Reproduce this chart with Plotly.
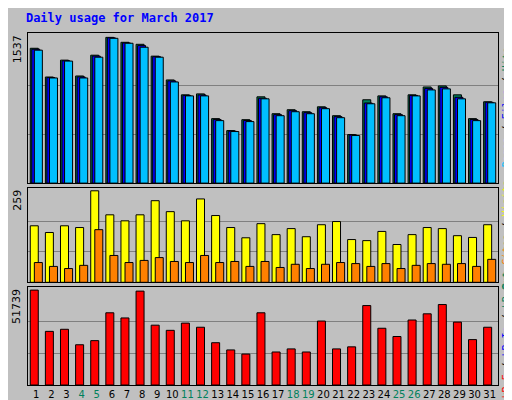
import plotly.graph_objects as go
from plotly.subplots import make_subplots

days = list(range(1, 32))
weekend_days = [4, 5, 11, 12, 18, 19, 25, 26]

hits = [1422, 1119, 1297, 1130, 1349, 1537, 1485, 1464, 1339, 1088, 931, 941, 680, 554, 669, 910,
        732, 774, 753, 805, 711, 512, 879, 920, 732, 931, 1014, 1025, 931, 680, 858]
files = [1412, 1113, 1290, 1120, 1340, 1532, 1478, 1450, 1333, 1078, 925, 930, 670, 548, 660, 895,
         722, 764, 743, 795, 701, 507, 845, 910, 722, 925, 999, 1010, 905, 670, 853]
pages = [1402, 1109, 1287, 1109, 1328, 1527, 1475, 1433, 1328, 1067, 920, 920, 659, 544, 649, 889,
         711, 753, 732, 785, 690, 502, 837, 900, 711, 920, 983, 994, 889, 659, 847]
visits = [160, 141, 160, 155, 259, 191, 174, 191, 231, 200, 174, 236, 189, 155, 126, 166,
          135, 152, 129, 163, 172, 121, 118, 144, 107, 135, 155, 152, 132, 127, 163]
sites = [56, 45, 39, 48, 149, 76, 56, 62, 70, 59, 56, 76, 56, 59, 45, 59,
         42, 51, 39, 51, 56, 53, 45, 53, 39, 48, 53, 51, 53, 45, 65]
kbytes = [50640, 28620, 29720, 21470, 23670, 38530, 35780, 50090, 31920, 29170, 33020, 30820, 22570,
          18710, 16510, 38530, 17610, 19260, 17610, 34120, 19260, 20360, 42380, 30270, 25870, 34680,
          37980, 42930, 33570, 24220, 30820]

GRAY = "#C0C0C0"
MONO = "DejaVu Sans Mono"
W = 0.53

fig = make_subplots(rows=3, cols=1, shared_xaxes=True, vertical_spacing=0.014,
                    row_heights=[0.43, 0.27, 0.28])


def bars(vals, color, offset, row):
    fig.add_trace(go.Bar(x=days, y=vals, width=W, offset=offset, marker_color=color,
                         marker_line=dict(color="black", width=1), showlegend=False,
                         hoverinfo="skip"), row=row, col=1)


bars(hits, "#00805C", -0.4, 1)
bars(files, "#0000FF", -0.3, 1)
bars(pages, "#00BFFF", -0.13, 1)
bars(visits, "#FFFF00", -0.4, 2)
bars(sites, "#FF8000", -0.13, 2)
bars(kbytes, "#FF0000", -0.4, 3)

ticktext = [f"<span style='color:#00805C'>{d}</span>" if d in weekend_days else str(d) for d in days]

for row, vals in [(1, hits), (2, visits), (3, kbytes)]:
    m = max(vals)
    fig.update_yaxes(row=row, col=1, range=[0, m * 1.03], tickvals=[m / 3, 2 * m / 3],
                     showticklabels=False, ticks="", gridcolor="#808080", gridwidth=1,
                     zeroline=False, showline=True, linecolor="black", mirror=True,
                     automargin=False)
    fig.update_xaxes(row=row, col=1, range=[0.45, 31.55], showgrid=False, showline=True,
                     linecolor="black", mirror=True, ticks="", automargin=False)

fig.update_xaxes(row=3, col=1, tickvals=days, ticktext=ticktext, tickangle=0,
                 tickfont=dict(family="DejaVu Sans", size=10, color="black"))

fig.update_layout(
    width=512, height=400, barmode="overlay",
    paper_bgcolor=GRAY, plot_bgcolor=GRAY,
    margin=dict(l=20, r=22, t=25, b=23, autoexpand=False),
    title=dict(text="<b>Daily usage for March 2017</b>", x=0.035, y=0.985, yanchor="top",
               font=dict(family=MONO, size=12, color="#0000FF")),
)

# left max labels
for yref, text in [("y domain", "1537"), ("y2 domain", "259"), ("y3 domain", "51739")]:
    fig.add_annotation(xref="paper", yref=yref, x=-0.005, y=1.0, xanchor="right", yanchor="top",
                       text=text, textangle=-90, showarrow=False,
                       font=dict(family="DejaVu Sans", size=11, color="black"))

# right legends
legends = [
    ("y domain", "<span style='color:#00BFFF'>Pages</span> / <span style='color:#0000FF'>Files</span>"
                 " / <span style='color:#00805C'>Hits</span>"),
    ("y2 domain", "<span style='color:#00805C'>Out</span> <span style='color:#FF8000'>Sites</span>"
                  " / <span style='color:#FFFF00'>Visits</span>"),
    ("y3 domain", "<span style='color:#FF0000'>kB F</span> / <span style='color:#0000FF'>kB In</span>"
                  " / <span style='color:#00805C'>kB Out</span>"),
]
for yref, text in legends:
    fig.add_annotation(xref="paper", yref=yref, x=1.0, y=0.5, xanchor="left", yanchor="middle",
                       text=text, textangle=-90, showarrow=False, xshift=1,
                       font=dict(family=MONO, size=10, color="black"))

fig.write_html("out.html")
